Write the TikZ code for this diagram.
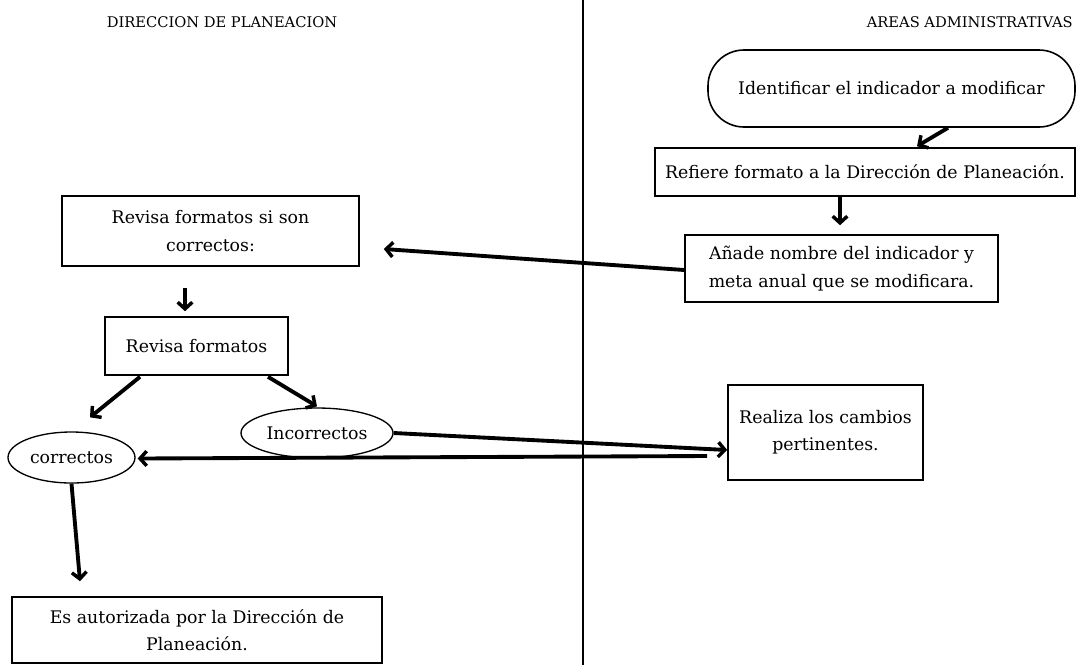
\documentclass[tikz,border=0pt]{standalone}
\usepackage{fontspec}
\setmainfont{DejaVu Serif}
\usetikzlibrary{arrows.meta,shapes.geometric,calc}
\begin{document}
\begin{tikzpicture}[x=0.75pt,y=-0.75pt,
  box/.style={draw,line width=1.2pt,align=center,inner sep=0pt,font=\fontsize{13}{20.5}\selectfont},
  oval/.style={draw,ellipse,line width=1pt,inner sep=0pt,font=\fontsize{13}{20.5}\selectfont},
  head/.style={font=\fontsize{11}{13}\selectfont,inner sep=0pt},
  arr/.style={line width=2.9pt,-{Straight Barb[length=5pt,width=11pt,line width=2.6pt]}},
  divider/.style={line width=2pt}]
\useasboundingbox (0,0) rectangle (1080,665);
\fill[white] (0,0) rectangle (1080,665);
\coordinate (dtop) at (583,0);
\coordinate (dbot) at (583,665);
\draw[divider] (dtop) -- (dbot);
\node[head] (h1) at (222,22) {DIRECCION DE PLANEACION};
\node[head,anchor=east] (h2) at (1073,22) {AREAS ADMINISTRATIVAS};
\node[box,rounded corners=27pt,minimum width=275.25pt,minimum height=57.75pt] (term) at (891.5,88.5) {Identificar el indicador a modificar};
\node[box,minimum width=315pt,minimum height=36pt] (refiere) at (865,172) {Refiere formato a la Dirección de Planeación.};
\node[box,minimum width=234.75pt,minimum height=50.25pt] (anade) at (841.5,268.5) {Añade nombre del indicador y\\meta anual que se modificara.};
\node[box,minimum width=222.75pt,minimum height=52.5pt] (rev1) at (210.5,231) {Revisa formatos si son\\correctos:};
\node[box,minimum width=137.25pt,minimum height=43.5pt] (rev2) at (196.5,346) {Revisa formatos};
\node[oval,minimum width=114pt,minimum height=37.5pt] (incor) at (317,433) {Incorrectos};
\node[oval,minimum width=95.25pt,minimum height=38.25pt] (corr) at (71.5,457.5) {correctos};
\node[box,minimum width=146.25pt,minimum height=71.25pt] (realiza) at (825.5,432.5) {Realiza los cambios\\pertinentes.};
\node[box,minimum width=277.5pt,minimum height=49.5pt] (autor) at (197,630) {Es autorizada por la Dirección de\\Planeación.};
\draw[arr] ($(term.south)+(56.5,0)$) -- ($(refiere.north)+(52,-1)$);
\draw[arr] ($(refiere.south)+(-25,0)$) -- ($(anade.north)+(-1.5,-9)$);
\draw[arr] ($(anade.west)+(0,1.5)$) -- ($(rev1.east)+(24,18)$);
\draw[arr] ($(rev1.south)+(-25.5,21)$) -- ($(rev2.north)+(-11.5,-5)$);
\draw[arr] ($(rev2.south)+(-56.5,1)$) -- ($(corr.north)+(18.5,-14)$);
\draw[arr] ($(rev2.south)+(71.5,1)$) -- ($(incor.north)+(0,-1)$);
\draw[arr] (incor.east) -- ($(realiza.west)+(0,17.5)$);
\draw[arr] ($(realiza.west)+(-20,23.5)$) -- ($(corr.east)+(2,1)$);
\draw[arr] (corr.south) -- ($(autor.north)+(-117,-15)$);
\end{tikzpicture}
\end{document}
